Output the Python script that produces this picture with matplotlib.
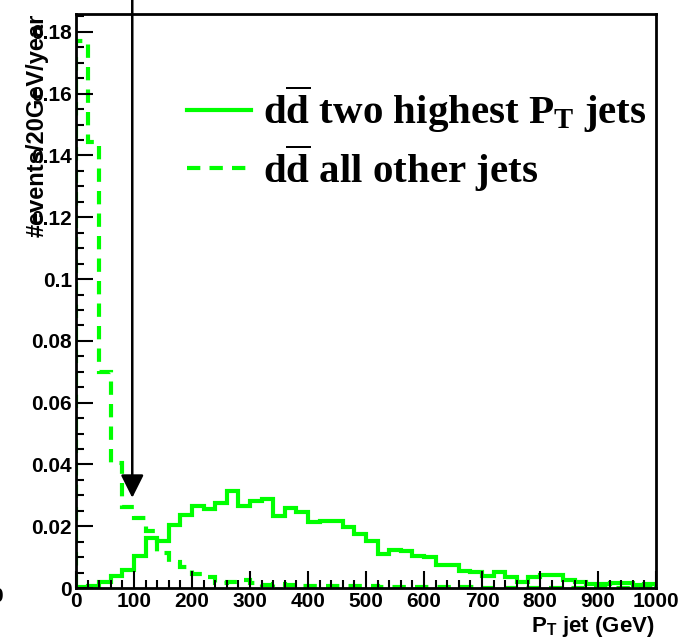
import matplotlib
matplotlib.use('Agg')
import matplotlib.pyplot as plt
import numpy as np
from matplotlib.ticker import MultipleLocator

# 20 GeV bins, 0 - 1000 GeV
bin_edges = np.arange(0, 1001, 20)

# dd~ two highest PT jets
two_highest = [0.0002, 0.0008, 0.0018, 0.0040, 0.0058, 0.0102, 0.0162, 0.0151, 0.0205, 0.0237,
               0.0264, 0.0257, 0.0276, 0.0314, 0.0267, 0.0281, 0.0289, 0.0233, 0.0258, 0.0246,
               0.0214, 0.0217, 0.0217, 0.0199, 0.0175, 0.0153, 0.0110, 0.0122, 0.0121, 0.0102,
               0.0099, 0.0073, 0.0074, 0.0055, 0.0053, 0.0038, 0.0051, 0.0037, 0.0020, 0.0037,
               0.0043, 0.0041, 0.0025, 0.0019, 0.0012, 0.0014, 0.0016, 0.0017, 0.0010, 0.0012]

# dd~ all other jets
other_jets = [0.1770, 0.1445, 0.0700, 0.0405, 0.0262, 0.0226, 0.0184, 0.0113, 0.0085, 0.0069,
              0.0046, 0.0037, 0.0016, 0.0019, 0.0026, 0.0016, 0.0010, 0.0013, 0.0009, 0.0008,
              0.0007, 0.0006, 0.0006, 0.0007, 0.0005, 0.0005, 0.0004, 0.0004, 0.0003, 0.0003,
              0.0003, 0.0002, 0.0002, 0.0002, 0.0002, 0.0001, 0.0001, 0.0001, 0.0001, 0.0001,
              0.0001, 0.0001, 0.0001, 0.0001, 0.0000, 0.0001, 0.0000, 0.0000, 0.0000, 0.0000]

cut_value = 97    # arrow position (GeV)
arrow_tip = 0.0292

plt.rcParams['font.family'] = 'Liberation Sans'
plt.rcParams['font.weight'] = 'bold'
plt.rcParams['mathtext.fontset'] = 'custom'
plt.rcParams['mathtext.bf'] = 'Liberation Serif:bold'
plt.rcParams['mathtext.rm'] = 'Liberation Serif:bold'
plt.rcParams['mathtext.sf'] = 'Liberation Sans:bold'

green = '#00ff00'
dash = (0, (3.2, 2.2))

fig = plt.figure(figsize=(6.81, 6.39), dpi=100)
ax = fig.add_axes([76/681, 1 - 588/639, 580/681, 574/639])

ax.stairs(two_highest, bin_edges, color=green, lw=3, baseline=0,
          label=r'$\mathbf{d\overline{d}}$ two highest $\mathbf{P_T}$ jets')
ax.stairs(other_jets, bin_edges, color=green, lw=3, ls=dash, baseline=0,
          label=r'$\mathbf{d\overline{d}}$ all other jets')

ax.set_xlim(0, 1000)
ax.set_ylim(0, 0.1858)

ax.xaxis.set_major_locator(MultipleLocator(100))
ax.xaxis.set_minor_locator(MultipleLocator(20))
ax.yaxis.set_minor_locator(MultipleLocator(0.005))
ax.set_yticks(np.arange(0, 0.181, 0.02))
ax.set_yticklabels(['0', '0.02', '0.04', '0.06', '0.08', '0.1', '0.12', '0.14', '0.16', '0.18'])

ax.tick_params(which='both', direction='in', top=False, right=False, width=1.5,
               labelsize=15, pad=3)
ax.tick_params(which='major', length=12)
ax.tick_params(which='minor', length=6)
for s in ax.spines.values():
    s.set_linewidth(2)

# cut arrow
ax.annotate('', xy=(cut_value, arrow_tip), xytext=(cut_value, 0.1905),
            arrowprops=dict(arrowstyle='-|>,head_length=1.0,head_width=0.5',
                            color='black', lw=1.8, mutation_scale=14,
                            shrinkA=0, shrinkB=0),
            annotation_clip=False)

fig.text(37/681, 1 - 14/639, '#events/20GeV/year', rotation=90, ha='center', va='top',
         fontsize=17, fontweight='bold')
fig.text(655/681, 1 - 632/639, r'$\mathsf{P_T}$ jet (GeV)', ha='right', va='baseline',
         fontsize=16, fontweight='bold')
fig.text(3/681, 1 - 597/639, '0', ha='right', va='center', fontsize=15, fontweight='bold')

leg = ax.legend(loc='upper left', bbox_to_anchor=(187/681, 1 - 84/639),
                bbox_transform=fig.transFigure, frameon=False, borderpad=0,
                borderaxespad=0, handlelength=1.56, handletextpad=0.3,
                labelspacing=0.18,
                prop={'family': 'Liberation Serif', 'weight': 'bold', 'size': 29.5})

fig.savefig('out.png', dpi=100)
